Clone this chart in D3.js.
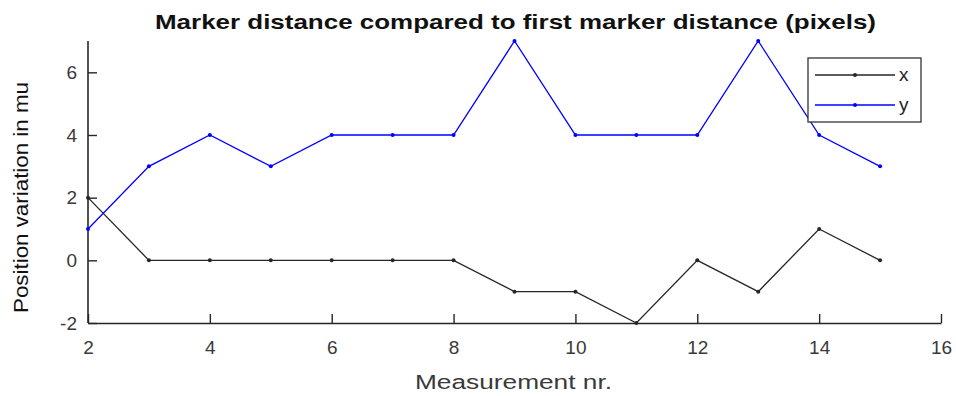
<!DOCTYPE html>
<html>
<head>
<meta charset="utf-8">
<script src="https://cdn.jsdelivr.net/npm/d3@7"></script>
<style>
  body { margin: 0; background: #fff; }
  text { font-family: "Liberation Sans", Arial, sans-serif; }
</style>
</head>
<body>
<svg id="chart" width="956" height="396"></svg>
<script>
// measurements 2..15
const measures = [2, 3, 4, 5, 6, 7, 8, 9, 10, 11, 12, 13, 14, 15];
const xVals = [2, 0, 0, 0, 0, 0, 0, -1, -1, -2, 0, -1, 1, 0];
const yVals = [1, 3, 4, 3, 4, 4, 4, 7, 4, 4, 4, 7, 4, 3];
const xTicks = [2, 4, 6, 8, 10, 12, 14, 16];
const yTicks = [-2, 0, 2, 4, 6];

let svg = d3.select("#chart");
let pLeft = 88, pRight = 941, pTop = 41, pBottom = 323;

let x = d3.scaleLinear().domain([2, 16]).range([pLeft, pRight]);
let y = d3.scaleLinear().domain([-2, 7]).range([pBottom, pTop]);

// axes, ticks inward, plain hyphen for negatives
let xAxis = d3.axisBottom(x).tickValues(xTicks).tickSizeInner(-9).tickSizeOuter(0)
  .tickPadding(18).tickFormat(d => String(d));
let yAxis = d3.axisLeft(y).tickValues(yTicks).tickSizeInner(-9).tickSizeOuter(0)
  .tickPadding(11).tickFormat(d => String(d));

let gx = svg.append("g").attr("transform", `translate(0,${pBottom})`).call(xAxis);
let gy = svg.append("g").attr("transform", `translate(${pLeft},0)`).call(yAxis);
[gx, gy].forEach(g => {
  g.select(".domain").attr("stroke", "#262626").attr("stroke-width", 1.6);
  g.selectAll(".tick line").attr("stroke", "#262626").attr("stroke-width", 1.4);
  g.selectAll(".tick text").attr("fill", "#3a3a3a").style("font-size", "19px")
    .style("font-family", "Liberation Sans, Arial, sans-serif");
});
// extend y domain line to top (y=7)
gy.select(".domain").attr("d", `M0,${pTop}V${pBottom}`);

let line = d3.line().x((d, i) => x(measures[i])).y(d => y(d));

let series = [
  { name: "x", vals: xVals, color: "#262626" },
  { name: "y", vals: yVals, color: "#0000ff" }
];

series.forEach(s => {
  svg.append("path").datum(s.vals).attr("d", line)
    .attr("fill", "none").attr("stroke", s.color).attr("stroke-width", 1.3);
  svg.selectAll(null).data(s.vals).enter().append("circle")
    .attr("cx", (d, i) => x(measures[i])).attr("cy", d => y(d))
    .attr("r", 2).attr("fill", s.color);
});

// title + labels
svg.append("text").text("Marker distance compared to first marker distance (pixels)")
  .attr("x", 155).attr("y", 29).attr("textLength", 721).attr("lengthAdjust", "spacingAndGlyphs")
  .style("font-size", "21px").style("font-weight", "bold").attr("fill", "#111");
svg.append("text").text("Measurement nr.")
  .attr("x", 415).attr("y", 389).attr("textLength", 197).attr("lengthAdjust", "spacingAndGlyphs")
  .style("font-size", "20px").attr("fill", "#3a3a3a");
svg.append("text").text("Position variation in mu")
  .attr("transform", "translate(28,313) rotate(-90)")
  .attr("textLength", 231).attr("lengthAdjust", "spacingAndGlyphs")
  .style("font-size", "21px").attr("fill", "#111");

// legend
let lg = svg.append("g");
lg.append("rect").attr("x", 808).attr("y", 58).attr("width", 113).attr("height", 64)
  .attr("fill", "#fff").attr("stroke", "#333").attr("stroke-width", 1.3);
series.forEach((s, i) => {
  let ly = 75 + i * 30;
  lg.append("line").attr("x1", 815).attr("x2", 895).attr("y1", ly).attr("y2", ly)
    .attr("stroke", s.color).attr("stroke-width", 1.3);
  lg.append("circle").attr("cx", 855).attr("cy", ly).attr("r", 2).attr("fill", s.color);
  lg.append("text").text(s.name).attr("x", 899).attr("y", ly + 6)
    .style("font-size", "19px").attr("fill", "#222");
});
</script>
</body>
</html>
